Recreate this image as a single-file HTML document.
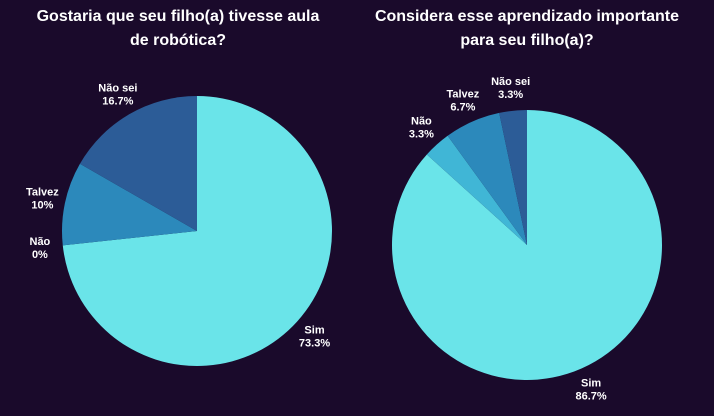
<!DOCTYPE html>
<html><head><meta charset="utf-8"><style>
html,body{margin:0;background:#1a0a2b;width:714px;height:416px;overflow:hidden;font-family:"Liberation Sans",sans-serif}
svg{display:block}
</style></head><body>
<svg id="c" width="714" height="416">
<text x="178" y="21" fill="#fff" font-size="16" font-weight="bold" text-anchor="middle">Gostaria que seu filho(a) tivesse aula</text>
<text x="178" y="45" fill="#fff" font-size="16" font-weight="bold" text-anchor="middle">de robótica?</text>
<text x="527" y="21" fill="#fff" font-size="16" font-weight="bold" text-anchor="middle">Considera esse aprendizado importante</text>
<text x="527" y="45" fill="#fff" font-size="16" font-weight="bold" text-anchor="middle">para seu filho(a)?</text>
</svg>
<script>
const categories=["Sim","Não","Talvez","Não sei"];
const leftValues=[73.3,0,10,16.7];
const rightValues=[86.7,3.3,6.7,3.3];
const colors=["#6ae4e9","#40b6d6","#2c89bb","#2c5c97"];
const svg=document.getElementById('c');
const NS="http://www.w3.org/2000/svg";
function pie(vals,cx,cy,r,name){
  const total=vals.reduce((a,b)=>a+b,0);
  let acc=0;
  vals.forEach((v,i)=>{
    const a0=acc/total*2*Math.PI, a1=(acc+v)/total*2*Math.PI;
    const pt=a=>[cx+r*Math.sin(a),cy-r*Math.cos(a)];
    if(v>0){
      const p=document.createElementNS(NS,'path');
      const [x0,y0]=pt(a0),[x1,y1]=pt(a1);
      p.setAttribute('d',`M${cx},${cy}L${x0},${y0}A${r},${r} 0 ${a1-a0>Math.PI?1:0} 1 ${x1},${y1}Z`);
      p.setAttribute('fill',colors[i]);
      
      
      svg.appendChild(p);
    }
    const am=(a0+a1)/2, lr=r+23;
    const lx=cx+lr*Math.sin(am), ly=cy-lr*Math.cos(am);
    const t=document.createElementNS(NS,'text');
    t.setAttribute('x',lx);t.setAttribute('y',ly-3);
    t.setAttribute('fill','#fff');t.setAttribute('font-size','11');t.setAttribute('font-weight','bold');
    t.setAttribute('text-anchor','middle');
    
    
    const s1=document.createElementNS(NS,'tspan');s1.setAttribute('x',lx);s1.textContent=categories[i];
    const s2=document.createElementNS(NS,'tspan');s2.setAttribute('x',lx);s2.setAttribute('dy','13');
    s2.textContent=(Math.round(v*10)/10)+'%';
    t.appendChild(s1);t.appendChild(s2);svg.appendChild(t);
    acc+=v;
  });
}
pie(leftValues,197,231,135,'left-pie');
pie(rightValues,527,245,135,'right-pie');
</script>
</body></html>
